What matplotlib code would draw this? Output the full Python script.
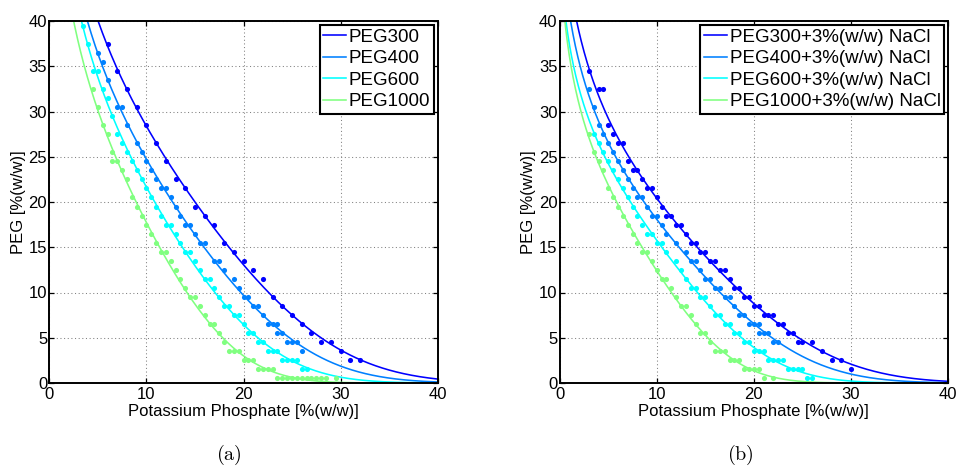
import numpy as np
import matplotlib
matplotlib.use("Agg")
import matplotlib.pyplot as plt

plt.rcParams['font.family'] = ['Liberation Sans', 'DejaVu Sans']
plt.rcParams['mathtext.fontset'] = 'cm'

# ---- binodal data: PEG / potassium phosphate (%w/w) ----
peg300_x = [6, 7, 8, 9, 10, 11, 12, 13, 14, 15, 16, 17, 18, 19, 20, 21, 22, 23, 24, 25, 26, 27, 28, 29, 30, 31, 32]
peg300_y = [37.5, 34.5, 32.5, 30.5, 28.5, 26.5, 24.5, 22.5, 21.5, 19.5, 18.5, 17.5, 15.5, 14.5, 13.5, 12.5, 11.5,
            9.5, 8.5, 7.5, 6.5, 5.5, 4.5, 4.5, 3.5, 2.5, 2.5]

peg400_x = [5, 5.5, 6, 7, 7.5, 8, 9, 9.5, 10, 10.5, 11, 11.5, 12, 12.5, 13, 13.5, 14, 14.5, 15, 15.5, 16, 17, 17.5,
            18, 19, 19.5, 20, 20.5, 21, 21.5, 22, 22.5, 23, 23.5, 23.5, 24, 24.5, 25, 25.5, 26]
peg400_y = [36.5, 35.5, 33.5, 30.5, 30.5, 28.5, 26.5, 25.5, 24.5, 23.5, 22.5, 21.5, 21.5, 20.5, 19.5, 18.5, 17.5,
            17.5, 16.5, 15.5, 15.5, 13.5, 13.5, 12.5, 11.5, 10.5, 9.5, 9.5, 8.5, 8.5, 7.5, 6.5, 6.5, 6.5, 5.5, 5.5,
            4.5, 4.5, 4.5, 3.5]

peg600_x = [3.5, 4, 4.5, 5, 5.5, 6, 6.5, 7, 7.5, 8, 8.5, 9, 9.5, 10, 10.5, 11, 11.5, 12, 12.5, 13, 13.5, 14, 14.5,
            15, 15.5, 16, 16.5, 17, 17.5, 18, 18.5, 19, 19.5, 20, 20.5, 21, 21.5, 22, 22.5, 23, 23.5, 24, 24.5, 25,
            25.5, 26, 26.5]
peg600_y = [39.5, 37.5, 34.5, 34.5, 32.5, 31.5, 29.5, 27.5, 26.5, 25.5, 24.5, 23.5, 22.5, 21.5, 20.5, 19.5, 18.5,
            17.5, 17.5, 16.5, 15.5, 14.5, 14.5, 13.5, 12.5, 11.5, 11.5, 10.5, 9.5, 8.5, 8.5, 7.5, 7.5, 6.5, 5.5, 5.5,
            4.5, 4.5, 3.5, 3.5, 3.5, 2.5, 2.5, 2.5, 2.5, 1.5, 1.5]

peg1000_x = [4.5, 5, 5.5, 6, 6.5, 6.5, 7, 7.5, 8, 8.5, 9, 9.5, 10, 10.5, 11, 11.5, 12, 12.5, 13, 13.5, 14, 14.5, 15,
             15.5, 16, 16.5, 17, 17.5, 18, 18.5, 19, 19.5, 20, 20.5, 21, 21.5, 22, 22.5, 23, 23.5, 24, 24.5, 25,
             25.5, 26, 26.5, 27, 27.5, 28, 28.5, 29.5]
peg1000_y = [32.5, 30.5, 28.5, 27.5, 25.5, 24.5, 24.5, 23.5, 22.5, 20.5, 19.5, 18.5, 17.5, 16.5, 15.5, 14.5, 14.5,
             13.5, 12.5, 11.5, 10.5, 9.5, 9.5, 8.5, 7.5, 6.5, 6.5, 5.5, 4.5, 3.5, 3.5, 3.5, 2.5, 2.5, 2.5, 1.5, 1.5,
             1.5, 1.5, 0.5, 0.5, 0.5, 0.5, 0.5, 0.5, 0.5, 0.5, 0.5, 0.5, 0.5, 0.5]

# ---- same systems with 3% (w/w) NaCl ----
nacl300_x = [3, 4, 4.5, 5, 5.5, 6, 6.5, 7, 7.5, 8, 8.5, 9, 9.5, 10, 10.5, 11, 11.5, 12, 12.5, 13, 13.5, 14, 14.5,
             15, 15.5, 16, 16.5, 17, 17.5, 18, 18.5, 19, 19.5, 20, 20.5, 21, 21.5, 22, 22.5, 23, 23.5, 24, 24.5, 25,
             26, 27, 28, 29, 30]
nacl300_y = [34.5, 32.5, 32.5, 28.5, 27.5, 26.5, 26.5, 24.5, 23.5, 23.5, 22.5, 21.5, 21.5, 20.5, 19.5, 18.5, 18.5,
             17.5, 17.5, 16.5, 15.5, 15.5, 14.5, 14.5, 13.5, 13.5, 12.5, 12.5, 11.5, 10.5, 10.5, 9.5, 9.5, 8.5, 8.5,
             7.5, 7.5, 7.5, 6.5, 6.5, 5.5, 5.5, 4.5, 4.5, 4.5, 3.5, 2.5, 2.5, 1.5]

nacl400_x = [3, 3.5, 4, 4.5, 5, 5.5, 6, 6.5, 7, 7.5, 8, 8.5, 9, 9.5, 10, 10.5, 11, 12, 13, 13.5, 14, 14.5, 15, 15.5,
             16, 16.5, 17, 17.5, 18, 18.5, 19, 19.5, 20, 20.5, 20.5, 21, 21.5, 22, 22.5]
nacl400_y = [32.5, 30.5, 28.5, 27.5, 26.5, 25.5, 24.5, 23.5, 22.5, 21.5, 20.5, 20.5, 19.5, 18.5, 18.5, 17.5, 16.5,
             15.5, 14.5, 13.5, 13.5, 12.5, 11.5, 11.5, 10.5, 10.5, 9.5, 9.5, 8.5, 7.5, 7.5, 6.5, 6.5, 6.5, 5.5, 5.5,
             5.5, 4.5, 4.5]

nacl600_x = [3.5, 4, 4.5, 5, 5.5, 6, 6.5, 7, 7.5, 8, 8.5, 9, 9.5, 10, 10.5, 11, 12, 12.5, 13, 13.5, 14, 14.5, 15,
             15.5, 16, 16.5, 17, 17.5, 18, 18.5, 19, 19.5, 20, 20.5, 21, 21.5, 22, 22.5, 23, 23.5, 24, 24.5, 25,
             25.5, 26]
nacl600_y = [27.5, 26.5, 25.5, 24.5, 23.5, 22.5, 21.5, 20.5, 19.5, 18.5, 17.5, 16.5, 16.5, 15.5, 15.5, 14.5, 13.5,
             12.5, 11.5, 10.5, 10.5, 9.5, 9.5, 8.5, 7.5, 7.5, 6.5, 6.5, 5.5, 5.5, 4.5, 4.5, 3.5, 3.5, 3.5, 2.5, 2.5,
             2.5, 2.5, 1.5, 1.5, 1.5, 1.5, 0.5, 0.5]

nacl1000_x = [3, 3.5, 4, 4.5, 5, 5.5, 6, 6.5, 7, 7.5, 8, 8.5, 9, 9.5, 10, 10.5, 11, 11.5, 12, 12.5, 13, 13.5, 14,
              14.5, 15, 15.5, 16, 16.5, 17, 17.5, 18, 18.5, 19, 19.5, 20, 20.5, 21, 22]
nacl1000_y = [27.5, 25.5, 24.5, 23.5, 21.5, 20.5, 19.5, 18.5, 17.5, 16.5, 15.5, 14.5, 14.5, 13.5, 12.5, 11.5, 11.5,
              10.5, 9.5, 8.5, 8.5, 7.5, 6.5, 5.5, 5.5, 4.5, 3.5, 3.5, 3.5, 2.5, 2.5, 2.5, 1.5, 1.5, 1.5, 1.5, 0.5, 0.5]

labels_a = ['PEG300', 'PEG400', 'PEG600', 'PEG1000']
labels_b = ['PEG300+3%(w/w) NaCl', 'PEG400+3%(w/w) NaCl', 'PEG600+3%(w/w) NaCl', 'PEG1000+3%(w/w) NaCl']
colors = [(0, 0, 1), (0, 0.5, 1), (0, 1, 1), (0.5, 1, 0.5)]

series_a = [(peg300_x, peg300_y), (peg400_x, peg400_y), (peg600_x, peg600_y), (peg1000_x, peg1000_y)]
series_b = [(nacl300_x, nacl300_y), (nacl400_x, nacl400_y), (nacl600_x, nacl600_y), (nacl1000_x, nacl1000_y)]


def merchuk_fit(x, y):
    """Fit y = a*exp(b*sqrt(x) - c*x^3) by iteratively weighted log-linear least squares."""
    x = np.asarray(x, float)
    y = np.asarray(y, float)
    A = np.column_stack([np.ones_like(x), np.sqrt(x), x ** 3])
    w = y.copy()
    coef = None
    for _ in range(8):
        coef, *_ = np.linalg.lstsq(A * w[:, None], np.log(y) * w, rcond=None)
        w = np.exp(A @ coef)
    return coef


def merchuk_eval(coef, x):
    return np.exp(coef[0] + coef[1] * np.sqrt(x) + coef[2] * x ** 3)


W, H = 956, 468
fig = plt.figure(figsize=(W / 100, H / 100), dpi=100)

FS = 12
LEG_FS = 13.5


def style_axes(ax):
    ax.set_xlim(0, 40)
    ax.set_ylim(0, 40)
    ax.set_xticks([0, 10, 20, 30, 40])
    ax.set_yticks(np.arange(0, 41, 5))
    ax.grid(True, color='0.5', linestyle=(0, (1, 2.5)), linewidth=0.75)
    ax.set_axisbelow(True)
    ax.tick_params(direction='in', top=True, right=True, length=3.5, width=0.9,
                   labelsize=FS, colors='black')
    ax.tick_params(axis='x', pad=3.0)
    ax.tick_params(axis='y', pad=1.5)
    for s in ax.spines.values():
        s.set_linewidth(1.4)
        s.set_color('black')
    ax.set_xlabel('Potassium Phosphate [%(w/w)]', fontsize=FS)
    ax.set_ylabel('PEG [%(w/w)]', fontsize=FS)
    ax.xaxis.set_label_coords(0.5, -0.058)
    ax.yaxis.set_label_coords(-0.06, 0.5)


def draw_panel(ax, series, labels):
    xf = np.linspace(0.02, 40, 800)
    handles = []
    for (xs, ys), c, lab in zip(series, colors, labels):
        coef = merchuk_fit(xs, ys)
        h, = ax.plot(xf, merchuk_eval(coef, xf), color=c, linewidth=1.15, label=lab, clip_on=True)
        ax.plot(xs, ys, linestyle='none', marker='o', markersize=3.7, color=c, markeredgewidth=0)
        handles.append(h)
    style_axes(ax)
    leg = ax.legend(handles=handles, loc='upper right', fontsize=LEG_FS, frameon=True, fancybox=False,
                    framealpha=1, edgecolor='black', borderaxespad=0.2, borderpad=0.2,
                    labelspacing=0.24, handlelength=1.2, handletextpad=0.15)
    leg.get_frame().set_linewidth(1.5)


ax1 = fig.add_axes([49.3 / W, (H - 383) / H, 388.4 / W, 362 / H])
draw_panel(ax1, series_a, labels_a)
ax2 = fig.add_axes([559.7 / W, (H - 383) / H, 388.3 / W, 362 / H])
draw_panel(ax2, series_b, labels_b)

fig.text(229 / W, 1 - 455 / H, r'$\mathrm{(a)}$', ha='center', va='center', fontsize=14.5)
fig.text(740 / W, 1 - 455 / H, r'$\mathrm{(b)}$', ha='center', va='center', fontsize=14.5)

fig.savefig('out.png', dpi=100)
